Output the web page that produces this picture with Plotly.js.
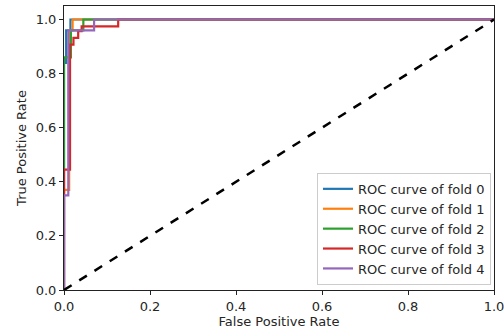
<!DOCTYPE html>
<html>
<head>
<meta charset="utf-8">
<script src="https://cdn.plot.ly/plotly-3.0.1.min.js"></script>
<style>html,body{margin:0;padding:0;background:#fff;overflow:hidden;}#chart{width:504px;height:333px;}</style>
</head>
<body>
<div id="chart"></div>
<script>
const seriesNames = ["ROC curve of fold 0","ROC curve of fold 1","ROC curve of fold 2","ROC curve of fold 3","ROC curve of fold 4"];
const fpr0 = [0, 0, 0.005, 0.005, 0.015, 0.015, 1];
const tpr0 = [0, 0.84, 0.84, 0.96, 0.96, 1.0, 1.0];
const fpr1 = [0, 0, 0.012, 0.012, 0.02, 0.02, 1];
const tpr1 = [0, 0.37, 0.37, 0.96, 0.96, 1.0, 1.0];
const fpr2 = [0, 0, 0.016, 0.016, 0.045, 0.045, 1];
const tpr2 = [0, 0.86, 0.86, 0.96, 0.96, 1.0, 1.0];
const fpr3 = [0, 0, 0.014, 0.014, 0.022, 0.022, 0.033, 0.033, 0.041, 0.041, 0.126, 0.126, 1];
const tpr3 = [0, 0.445, 0.445, 0.907, 0.907, 0.932, 0.932, 0.957, 0.957, 0.975, 0.975, 1.0, 1.0];
const fpr4 = [0, 0, 0.01, 0.01, 0.07, 0.07, 1];
const tpr4 = [0, 0.35, 0.35, 0.96, 0.96, 1.0, 1.0];
const chanceX = [0, 1];
const chanceY = [0, 1];
const tickVals = [0, 0.2, 0.4, 0.6, 0.8, 1.0];
const tickText = ["0.0", "0.2", "0.4", "0.6", "0.8", "1.0"];

const colors = ["#1f77b4", "#ff7f0e", "#2ca02c", "#d62728", "#9467bd"];
const fprs = [fpr0, fpr1, fpr2, fpr3, fpr4];
const tprs = [tpr0, tpr1, tpr2, tpr3, tpr4];

const traces = fprs.map((f, i) => ({
  x: f, y: tprs[i], type: "scatter", mode: "lines", name: seriesNames[i],
  line: {color: colors[i], width: 2.2}
}));
traces.push({x: chanceX, y: chanceY, type: "scatter", mode: "lines", showlegend: false,
  line: {color: "#000", width: 2.5, dash: "dash"}});

const font = {family: "DejaVu Sans, sans-serif", size: 13, color: "#262626"};
const axisCommon = {
  showgrid: false, zeroline: false, showline: true, mirror: true,
  linecolor: "#222", linewidth: 1, ticks: "outside", ticklen: 4, tickwidth: 1,
  tickcolor: "#222", tickvals: tickVals, ticktext: tickText, tickfont: font,
  ticklabeloverflow: "allow"
};
const layout = {
  width: 504, height: 333,
  margin: {l: 64, r: 10, t: 6, b: 43},
  paper_bgcolor: "#fff", plot_bgcolor: "#fff",
  font: font,
  xaxis: Object.assign({}, axisCommon, {range: [0, 1], title: {text: "False Positive Rate", font: font, standoff: 3}}),
  yaxis: Object.assign({}, axisCommon, {range: [0, 1.05], title: {text: "True Positive Rate", font: font, standoff: 6}}),
  legend: {x: 0.993, y: 0.018, xanchor: "right", yanchor: "bottom",
    bgcolor: "rgba(255,255,255,0.8)", bordercolor: "#ccc", borderwidth: 1,
    font: font, tracegroupgap: 0, itemwidth: 30}
};
Plotly.newPlot("chart", traces, layout, {staticPlot: true, displayModeBar: false});
</script>
</body>
</html>
